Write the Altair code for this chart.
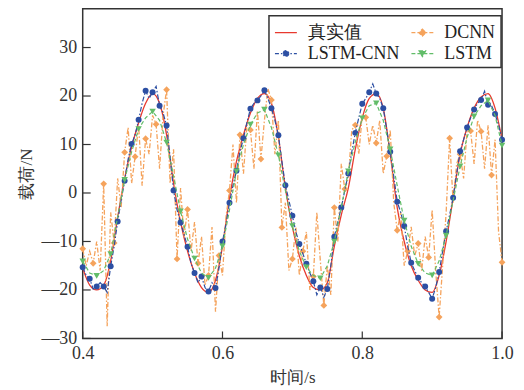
import altair as alt
import numpy as np
import pandas as pd

series_names = ["真实值", "DCNN", "LSTM-CNN", "LSTM"]
series_colors = ["#e8392e", "#f5a35c", "#2c4fa3", "#62bd69"]
# legend grid is filled column by column: list entries so rows read 真实值/DCNN, LSTM-CNN/LSTM
legend_order = ["真实值", "LSTM-CNN", "DCNN", "LSTM"]

# sample times
t_coarse = np.round(0.4 + np.arange(61) * 0.01, 3)
t_fine = np.round(0.4 + np.arange(121) * 0.005, 4)

true_vals = [
    -15.5, -19.0, -20.0, -19.0, -14.0, -5.0, 3.0, 9.5, 14.5, 18.5,
    20.5, 18.5, 12.0, 2.0, -6.0, -12.0, -16.5, -19.5, -20.5, -18.0,
    -11.0, -1.0, 6.5, 12.0, 16.5, 19.5, 20.5, 18.5, 11.5, 1.0,
    -7.0, -13.0, -17.0, -19.5, -20.0, -18.5, -11.0, -4.5, 1.0, 9.0,
    15.5, 19.5, 20.5, 17.5, 8.0, -3.0, -10.0, -15.0, -18.0, -20.0,
    -20.5, -17.0, -10.0, -1.0, 8.0, 13.5, 17.5, 19.8, 20.5, 17.5,
    11.0,
]

lstm_cnn_vals = [
    -15.3, -17.0, -17.7, -19.8, -19.3, -18.5, -19.3, -20.5, -15.1, -11.0,
    -5.9, -1.5, 2.5, 7.0, 10.1, 12.0, 15.1, 18.5, 21.1, 19.5,
    20.8, 22.0, 18.0, 16.5, 13.9, 7.5, 0.5, -3.5, -6.1, -8.5,
    -11.1, -14.5, -16.5, -18.5, -17.2, -19.5, -20.3, -18.5, -19.6, -15.5,
    -10.0, -6.5, -2.0, 1.5, 4.6, 8.5, 11.3, 14.5, 17.4, 18.5,
    19.1, 20.0, 21.2, 19.5, 17.5, 15.0, 11.9, 6.5, 1.6, -1.5,
    -4.7, -8.0, -10.5, -12.5, -14.6, -16.5, -18.2, -21.0, -19.5, -21.5,
    -19.8, -15.0, -9.0, -6.0, -3.0, 0.5, 4.0, 8.5, 12.4, 15.5,
    18.4, 19.5, 20.8, 22.5, 20.5, 19.5, 17.5, 13.0, 8.5, 3.5,
    -1.8, -4.0, -6.8, -11.0, -14.4, -16.0, -17.5, -18.5, -19.3, -20.5,
    -21.8, -19.5, -16.3, -12.0, -7.9, -4.5, -1.0, 4.0, 8.6, 11.0,
    13.5, 15.5, 17.2, 18.5, 19.2, 21.0, 18.2, 18.0, 16.3, 14.0,
    11.0,
]

dcnn_vals = [
    -11.5, -15.0, -12.0, -14.5, -10.0, -16.0, 1.9, -27.5, -4.0, -10.3,
    3.0, -3.0, 8.4, 13.5, 2.0, 7.5, 14.0, 1.5, 11.2, 8.0,
    16.0, 14.2, 5.0, 16.0, 21.3, 2.0, 9.0, -13.6, 1.0, -9.0,
    -3.4, -12.0, -6.0, -14.5, -9.0, -19.0, -17.0, -7.0, -24.5, -12.9,
    -17.0, -5.0, 0.5, 10.0, -2.0, 12.0, 4.0, 14.0, 13.0, 5.0,
    17.0, 7.0, 15.0, 21.5, 19.2, 8.0, 15.0, -7.1, -2.0, -16.0,
    -13.6, -7.0, -17.0, -12.0, -8.0, -20.0, -17.2, -4.0, -14.0, -23.2,
    -15.0, -21.0, -3.0, -10.0, 6.0, 0.8, 3.0, 13.0, 14.0, 8.0,
    16.0, 15.6, 10.0, 14.0, 10.3, 15.0, 4.0, 7.6, 13.0, -2.0,
    -7.7, -4.0, -15.0, -12.0, -7.0, -13.0, -10.4, -16.0, -9.0, -13.3,
    -3.5, -16.0, -25.6, -15.0, -4.0, 11.3, -2.0, 6.0, 8.0, 3.0,
    13.0, 12.8, 6.0, 15.0, 12.7, 5.0, 14.0, 3.7, 11.0, -8.0,
    -14.3,
]

lstm_vals = [
    -14.1, -16.5, -17.1, -16.0, -12.6, -5.0, 2.7, 8.5, 13.2, 15.5,
    16.8, 15.0, 10.4, 3.5, -3.8, -9.5, -13.5, -16.5, -17.5, -15.5,
    -11.0, -3.5, 4.5, 10.0, 14.1, 16.5, 17.2, 13.5, 7.8, 0.5,
    -6.8, -12.0, -15.3, -17.0, -17.6, -15.0, -10.0, -3.0, 4.5, 10.5,
    15.4, 18.0, 18.5, 15.0, 9.0, 1.5, -5.7, -11.0, -14.6, -16.5,
    -17.0, -14.0, -8.8, -1.5, 5.5, 11.5, 15.8, 18.0, 19.1, 16.0,
    9.8,
]

x_ticks = [0.4, 0.6, 0.8, 1.0]
y_ticks = [-30, -20, -10, 0, 10, 20, 30]

SERIF = "Liberation Serif"
W, H = 421, 331

df_true = pd.DataFrame({"t": t_coarse, "y": true_vals})
df_cnn = pd.DataFrame({"t": t_fine, "y": lstm_cnn_vals})
df_dcnn = pd.DataFrame({"t": t_fine, "y": dcnn_vals})
df_lstm = pd.DataFrame({"t": t_coarse, "y": lstm_vals})

x_axis = alt.Axis(values=x_ticks, format=".1f", ticks=False, domain=False, grid=False,
                  labelPadding=6, labelFlush=False, labelOverlap=False, titlePadding=7)
y_axis = alt.Axis(values=y_ticks, ticks=False, domain=False, grid=False,
                  labelExpr="datum.value < 0 ? '—' + abs(datum.value) : datum.label",
                  labelPadding=6, labelOverlap=False, titlePadding=5)

x_enc = alt.X("t:Q", scale=alt.Scale(domain=[0.4, 1.0], nice=False, zero=False),
              axis=x_axis, title="时间/s")
y_enc = alt.Y("y:Q", scale=alt.Scale(domain=[-30, 38], nice=False, zero=False),
              axis=y_axis, title="载荷/N")

red, orange, blue, green = series_colors

true_line = alt.Chart(df_true).mark_line(color=red, strokeWidth=1.3, interpolate="monotone").encode(x=x_enc, y=y_enc)

dcnn_line = alt.Chart(df_dcnn).mark_line(color=orange, strokeWidth=1.3, strokeDash=[5, 2, 1.5, 2]).encode(x=x_enc, y=y_enc)
dcnn_pts = alt.Chart(df_dcnn.iloc[::3]).mark_point(shape="diamond", filled=True, size=46, color=orange, opacity=1).encode(x=x_enc, y=y_enc)

cnn_line = alt.Chart(df_cnn).mark_line(color=blue, strokeWidth=1.2, strokeDash=[5, 2, 1.5, 2]).encode(x=x_enc, y=y_enc)
cnn_pts = alt.Chart(df_cnn.iloc[::2]).mark_point(shape="circle", filled=True, size=36, color=blue, opacity=1).encode(x=x_enc, y=y_enc)

lstm_line = alt.Chart(df_lstm).mark_line(color=green, strokeWidth=1.2, strokeDash=[4, 2.5]).encode(x=x_enc, y=y_enc)
lstm_pts = alt.Chart(df_lstm.iloc[::2]).mark_point(shape="triangle-down", filled=True, size=42, color=green, opacity=1).encode(x=x_enc, y=y_enc)

ytick_layer = alt.Chart(pd.DataFrame({"y": y_ticks})).mark_rule(color="#333", strokeWidth=1.2).encode(
    y=y_enc, x=alt.value(0), x2=alt.value(8))
xtick_layer = alt.Chart(pd.DataFrame({"t": x_ticks})).mark_rule(color="#333", strokeWidth=1.2).encode(
    x=x_enc, y=alt.value(H), y2=alt.value(H - 7))

path_of = {
    "真实值": "M-1,0H1",
    "DCNN": "M-1,0H1M0,-0.32L0.32,0L0,0.32L-0.32,0Z",
    "LSTM-CNN": "M-1,0H1M0.26,0A0.26,0.26,0,1,1,-0.26,0A0.26,0.26,0,1,1,0.26,0Z",
    "LSTM": "M-1,0H1M-0.3,-0.24L0.3,-0.24L0,0.28Z",
}
dash_of = {"真实值": [1, 0], "DCNN": [4, 2], "LSTM-CNN": [4, 2, 1.5, 2], "LSTM": [4, 2]}
color_of = dict(zip(series_names, series_colors))

leg_colors = [color_of[s] for s in legend_order]
leg_paths = [path_of[s] for s in legend_order]
leg_dashes = [dash_of[s] for s in legend_order]

leg = alt.Legend(title=None, orient="none", legendX=187, legendY=7, columns=2,
                 symbolSize=484, symbolStrokeWidth=1.2, labelFont=SERIF, labelFontSize=18,
                 labelColor="#222", labelOffset=10, columnPadding=8, rowPadding=0,
                 padding=5, strokeColor="#333", fillColor="white", labelLimit=0)

legend_layer = alt.Chart(pd.DataFrame({"series": series_names})).transform_filter("false").mark_point(
    filled=True, size=484, strokeWidth=1.2, opacity=1).encode(
    fill=alt.Fill("series:N", scale=alt.Scale(domain=legend_order, range=leg_colors), legend=leg),
    stroke=alt.Stroke("series:N", scale=alt.Scale(domain=legend_order, range=leg_colors), legend=leg),
    shape=alt.Shape("series:N", scale=alt.Scale(domain=legend_order, range=leg_paths), legend=leg),
    strokeDash=alt.StrokeDash("series:N", scale=alt.Scale(domain=legend_order, range=leg_dashes), legend=leg),
)

chart = alt.layer(
    true_line, dcnn_line, dcnn_pts, cnn_line, cnn_pts, lstm_line, lstm_pts,
    ytick_layer, xtick_layer, legend_layer,
).properties(
    width=W, height=H,
    autosize=alt.AutoSizeParams(type="none"),
    padding={"left": 75, "top": 0, "right": 14, "bottom": 50},
).configure(
    background="white", font=SERIF
).configure_axis(
    labelFont=SERIF, labelFontSize=18, labelColor="#333",
    titleFont=SERIF, titleFontSize=17, titleFontWeight="normal", titleColor="#333",
).configure_view(
    stroke="#333", strokeWidth=1.5
).configure_legend(
    strokeWidth=1.5
)

chart.save("out.html", embed_options={"renderer": "svg", "actions": False})
